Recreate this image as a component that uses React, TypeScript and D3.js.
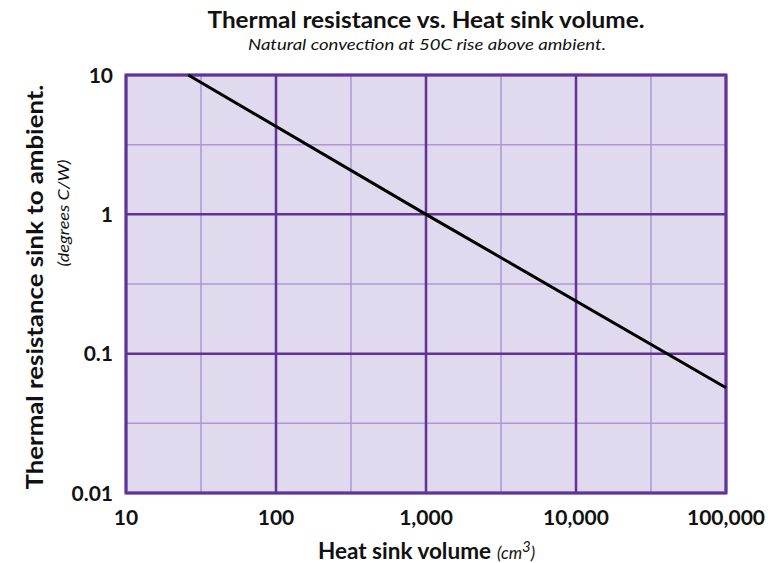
import { useMemo } from 'react';
import * as d3 from 'd3';

// heat sink volume (cm3) vs thermal resistance (C/W)
const volume = [26, 1000, 100000];
const resistance = [10, 1, 0.057];

const xMajor = [10, 100, 1000, 10000, 100000];
const xMinor = [31.62, 316.2, 3162, 31623];
const xLabels = ['10', '100', '1,000', '10,000', '100,000'];

const yMajor = [10, 1, 0.1, 0.01];
const yMinor = [3.162, 0.3162, 0.03162];
const yLabels = ['10', '1', '0.1', '0.01'];

const W = 768;
const H = 563;
const FONT = 'Lato, "Open Sans", sans-serif';

export default function App() {
  const left = 126, right = 726, top = 75, bottom = 493;

  const x = useMemo(() => d3.scaleLog().domain([10, 100000]).range([left, right]), []);
  const y = useMemo(() => d3.scaleLog().domain([0.01, 10]).range([bottom, top]), []);

  const line = d3.line<number>()
    .x((_, i) => x(volume[i]))
    .y((d) => y(d));

  return (
    <svg width={W} height={H} style={{ position: 'absolute', left: 0, top: 0, background: '#fff' }}>
      {/* titles */}
      <text x={426} y={28} textAnchor="middle" fontFamily={FONT} fontWeight="bold" fontSize={22}
        textLength={437} lengthAdjust="spacingAndGlyphs" fill="#111">
        Thermal resistance vs. Heat sink volume.
      </text>
      <text x={427} y={50} textAnchor="middle" fontFamily={FONT} fontStyle="italic" fontSize={15}
        textLength={358} lengthAdjust="spacingAndGlyphs" fill="#111">
        Natural convection at 50C rise above ambient.
      </text>

      {/* plot background */}
      <rect x={left} y={top} width={right - left} height={bottom - top} fill="#e1d9ed" />

      {/* minor grid */}
      {xMinor.map((v) => (
        <line key={'xm' + v} x1={x(v)} x2={x(v)} y1={top} y2={bottom} stroke="#ae97d4" strokeWidth={1.5} />
      ))}
      {yMinor.map((v) => (
        <line key={'ym' + v} y1={y(v)} y2={y(v)} x1={left} x2={right} stroke="#ae97d4" strokeWidth={1.5} />
      ))}

      {/* major grid */}
      {xMajor.map((v) => (
        <line key={'xM' + v} x1={x(v)} x2={x(v)} y1={top} y2={bottom} stroke="#5f3397" strokeWidth={2.5} />
      ))}
      {yMajor.map((v) => (
        <line key={'yM' + v} y1={y(v)} y2={y(v)} x1={left} x2={right} stroke="#5f3397" strokeWidth={2.5} />
      ))}

      <rect x={left} y={top} width={right - left} height={bottom - top} fill="none" stroke="#5f3397" strokeWidth={3} />

      {/* curve */}
      <path d={line(resistance) || ''} fill="none" stroke="#000" strokeWidth={3} />

      {/* y tick labels */}
      {yMajor.map((v, i) => (
        <text key={'yl' + v} x={113} y={y(v)} dy="0.36em" textAnchor="end" fontFamily={FONT}
          fontWeight="bold" fontSize={21} fill="#111">
          {yLabels[i]}
        </text>
      ))}

      {/* x tick labels */}
      {xMajor.map((v, i) => (
        <text key={'xl' + v} x={x(v)} y={525} textAnchor="middle" fontFamily={FONT}
          fontWeight="bold" fontSize={21} fill="#111">
          {xLabels[i]}
        </text>
      ))}

      {/* x axis title */}
      <text x={318} y={559} fontFamily={FONT} fontWeight="bold" fontSize={22} fill="#111"
        textLength={173} lengthAdjust="spacingAndGlyphs">
        Heat sink volume
      </text>
      <text x={497} y={559} fontFamily={FONT} fontStyle="italic" fontSize={17} fill="#111">
        (cm<tspan fontSize={15} dy={-7}>3</tspan><tspan dy={7}>)</tspan>
      </text>

      {/* y axis title */}
      <text transform="translate(43,287) rotate(-90)" textAnchor="middle" fontFamily={FONT}
        fontWeight="bold" fontSize={22} fill="#111" textLength={405} lengthAdjust="spacingAndGlyphs">
        Thermal resistance sink to ambient.
      </text>
      <text transform="translate(69,213) rotate(-90)" textAnchor="middle" fontFamily={FONT}
        fontStyle="italic" fontSize={16} fill="#111" textLength={107} lengthAdjust="spacingAndGlyphs">
        (degrees C/W)
      </text>
    </svg>
  );
}
